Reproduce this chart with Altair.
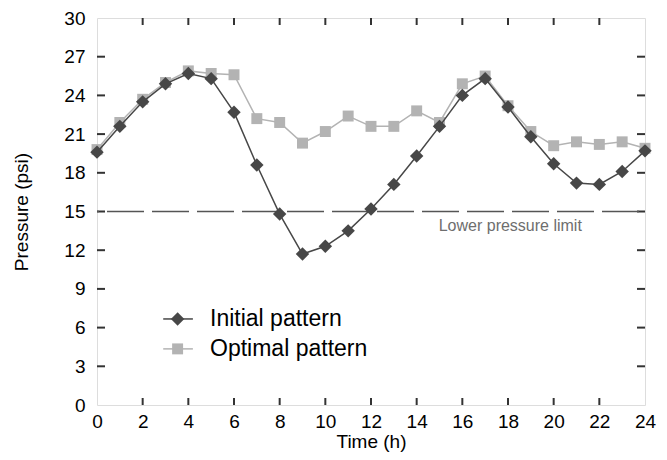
import altair as alt
import pandas as pd

hours = list(range(25))
initial = [19.6, 21.6, 23.5, 24.9, 25.7, 25.3, 22.7, 18.6, 14.8, 11.7, 12.3, 13.5, 15.2,
           17.1, 19.3, 21.6, 24.0, 25.3, 23.1, 20.8, 18.7, 17.2, 17.1, 18.1, 19.7]
optimal = [19.8, 21.9, 23.7, 25.0, 25.9, 25.7, 25.6, 22.2, 21.9, 20.3, 21.2, 22.4, 21.6,
           21.6, 22.8, 21.9, 24.9, 25.5, 23.2, 21.2, 20.1, 20.4, 20.2, 20.4, 19.9]
series_names = ["Initial pattern", "Optimal pattern"]
x_ticks = list(range(0, 25, 2))
y_ticks = list(range(0, 31, 3))
lower_limit = 15
limit_label = "Lower pressure limit"

W, H = 548, 387
FONT = "Liberation Sans"
C_INIT = "#474747"
C_OPT = "#b3b3b3"
C_AX = "#333333"

XMIN, XMAX, YMIN, YMAX = 0, 24, 0, 30
xs = alt.Scale(domain=[XMIN, XMAX], nice=False)
ys = alt.Scale(domain=[YMIN, YMAX], nice=False)

df = pd.DataFrame({
    "hour": hours * 2,
    "pressure": initial + optimal,
    "series": [series_names[0]] * len(hours) + [series_names[1]] * len(hours),
})
df_init = df[df.series == series_names[0]]
df_opt = df[df.series == series_names[1]]

xaxis = alt.Axis(values=x_ticks, ticks=False, domain=False, grid=False, labelFont=FONT,
                 labelFontSize=19, labelColor="black", labelPadding=7, title="Time (h)",
                 titleFont=FONT, titleFontSize=19, titleFontWeight="normal", titleColor="black",
                 titlePadding=1, labelFlush=False, labelOverlap=False)
yaxis = alt.Axis(values=y_ticks, ticks=False, domain=False, grid=False, labelFont=FONT,
                 labelFontSize=19, labelColor="black", labelPadding=12, title="Pressure (psi)",
                 titleFont=FONT, titleFontSize=19, titleFontWeight="normal", titleColor="black",
                 titlePadding=32, labelFlush=False, labelOverlap=False)


def X(field):
    return alt.X(field, scale=xs, axis=xaxis)


def Y(field):
    return alt.Y(field, scale=ys, axis=yaxis)


limit_df = pd.DataFrame({"x0": [XMIN], "x1": [XMAX], "y": [lower_limit], "lx": [18.1], "label": [limit_label]})
limit_line = alt.Chart(limit_df).mark_rule(color="#555555", strokeWidth=1.5, strokeDash=[37, 8],
                                           strokeDashOffset=-10).encode(
    x=X("x0:Q"), x2="x1:Q", y=Y("y:Q"))
limit_text = alt.Chart(limit_df).mark_text(font=FONT, fontSize=16, color="#6e6e6e", baseline="top",
                                           dy=6).encode(
    x=X("lx:Q"), y=Y("y:Q"), text="label:N")

opt_line = alt.Chart(df_opt).mark_line(color=C_OPT, strokeWidth=1.5).encode(x=X("hour:Q"), y=Y("pressure:Q"))
opt_pts = alt.Chart(df_opt).mark_point(shape="square", filled=True, size=120, color=C_OPT,
                                       opacity=1).encode(x=X("hour:Q"), y=Y("pressure:Q"))
init_line = alt.Chart(df_init).mark_line(color=C_INIT, strokeWidth=1.5).encode(x=X("hour:Q"), y=Y("pressure:Q"))
init_pts = alt.Chart(df_init).mark_point(shape="diamond", filled=True, size=180, color=C_INIT,
                                         opacity=1).encode(x=X("hour:Q"), y=Y("pressure:Q"))

# inward ticks (length converted to data units through the plot size)
tx_len = 8 * (XMAX - XMIN) / W
ty_len = 7 * (YMAX - YMIN) / H
yv = y_ticks[1:-1]
xv = x_ticks[1:-1]
ytick_df = pd.DataFrame({
    "v": yv * 2,
    "a": [XMIN] * len(yv) + [XMAX - tx_len] * len(yv),
    "b": [XMIN + tx_len] * len(yv) + [XMAX] * len(yv),
})
xtick_df = pd.DataFrame({
    "v": xv * 2,
    "a": [YMIN] * len(xv) + [YMAX - ty_len] * len(xv),
    "b": [YMIN + ty_len] * len(xv) + [YMAX] * len(xv),
})
yticks = alt.Chart(ytick_df).mark_rule(color=C_AX, strokeWidth=2).encode(
    y=Y("v:Q"), x=X("a:Q"), x2="b:Q")
xticks = alt.Chart(xtick_df).mark_rule(color=C_AX, strokeWidth=2).encode(
    x=X("v:Q"), y=Y("a:Q"), y2="b:Q")

leg = pd.DataFrame({
    "series": series_names,
    "lx0": [2.9, 2.9], "lx1": [4.2, 4.2], "mx": [3.53, 3.53], "tx": [4.95, 4.95],
    "ly": [6.67, 4.35],
})
cscale = alt.Scale(domain=series_names, range=[C_INIT, C_OPT])
leg_line = alt.Chart(leg).mark_rule(strokeWidth=1.5).encode(
    x=X("lx0:Q"), x2="lx1:Q", y=Y("ly:Q"),
    color=alt.Color("series:N", scale=cscale, legend=None))
leg_pts = alt.Chart(leg).mark_point(filled=True, opacity=1).encode(
    x=X("mx:Q"), y=Y("ly:Q"),
    color=alt.Color("series:N", scale=cscale, legend=None),
    shape=alt.Shape("series:N", scale=alt.Scale(domain=series_names, range=["diamond", "square"]), legend=None),
    size=alt.Size("series:N", scale=alt.Scale(domain=series_names, range=[180, 120]), legend=None))
leg_text = alt.Chart(leg).mark_text(font=FONT, fontSize=23, color="black", align="left",
                                    baseline="middle").encode(
    x=X("tx:Q"), y=Y("ly:Q"), text="series:N")

chart = alt.layer(
    yticks, xticks, limit_line, limit_text, opt_line, opt_pts, init_line, init_pts,
    leg_line, leg_pts, leg_text
).properties(
    width=W, height=H,
    autosize=alt.AutoSizeParams(type="none"),
    padding={"left": 89, "top": 10, "right": 14, "bottom": 55},
).configure_view(stroke=C_AX, strokeWidth=2).configure(background="white")

chart.save("out.html", embed_options={"renderer": "svg", "actions": False})
